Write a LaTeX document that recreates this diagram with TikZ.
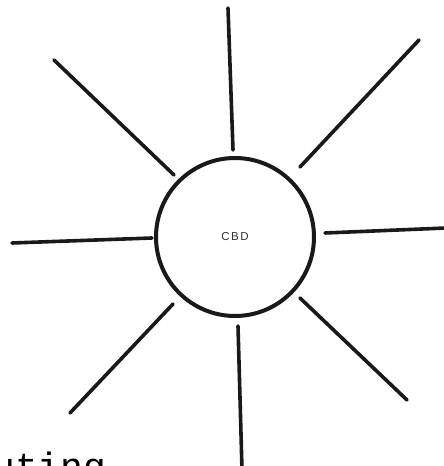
\documentclass[tikz,border=0pt]{standalone}
\usepackage{fontspec}
\newfontfamily\typefont{Liberation Mono}
\newfontfamily\labelfont[LetterSpace=14]{Liberation Sans}
\begin{document}
\begin{tikzpicture}[x=1pt,y=1pt,
  ray/.style={line width=3.6pt,line cap=round,black!90},
  hub/.style={circle,draw,line width=4pt,black!90,minimum size=158pt,inner sep=0pt,font=\labelfont\fontsize{11.5}{13}\selectfont}]
\useasboundingbox (0,0) rectangle (444,466);
\clip (0,0) rectangle (444,466);
\fill[white] (0,0) rectangle (444,466);
\node[hub] (cbd) at (235,229) {\textcolor{black!80}{CBD}};
\coordinate (n1) at (228,458); \coordinate (n2) at (233,316);
\coordinate (ne1) at (419,426); \coordinate (ne2) at (300,299);
\coordinate (e1) at (325,233); \coordinate (e2) at (446,238);
\coordinate (se1) at (300,168); \coordinate (se2) at (407,66);
\coordinate (s1) at (238,140); \coordinate (s2) at (242,-4);
\coordinate (sw1) at (173,162); \coordinate (sw2) at (70,53);
\coordinate (w1) at (12,223); \coordinate (w2) at (152,228);
\coordinate (nw1) at (54,406); \coordinate (nw2) at (174,291);
\draw[ray] (n1) -- (n2);
\draw[ray] (ne1) -- (ne2);
\draw[ray] (e1) -- (e2);
\draw[ray] (se1) -- (se2);
\draw[ray] (s1) -- (s2);
\draw[ray] (sw1) -- (sw2);
\draw[ray] (w1) -- (w2);
\draw[ray] (nw1) -- (nw2);
\node[anchor=base west,inner sep=0pt,font=\typefont\fontsize{38}{40}\selectfont] (cap) at (-53.5,-13) {Routing};
\end{tikzpicture}
\end{document}
